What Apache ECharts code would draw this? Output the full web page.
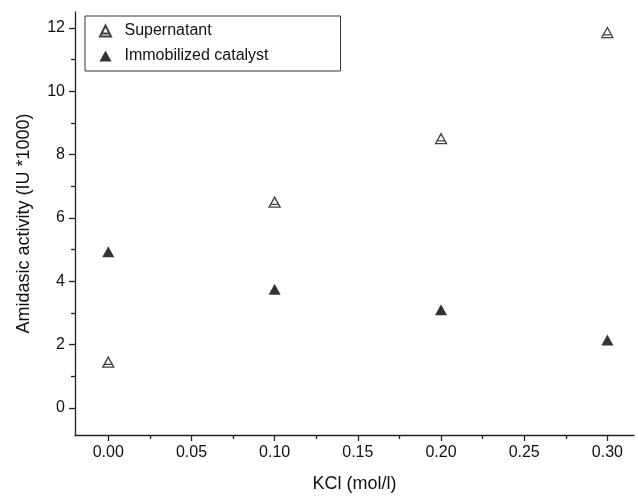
<!DOCTYPE html>
<html>
<head>
<meta charset="utf-8">
<script src="https://cdn.jsdelivr.net/npm/echarts@6/dist/echarts.min.js"></script>
<style>
  html, body { margin: 0; padding: 0; background: #fff; }
  #chart { width: 638px; height: 498px; }
</style>
</head>
<body>
<div id="chart"></div>
<script>
// KCl concentration (mol/l)
const kcl = [0.0, 0.1, 0.2, 0.3];
const supernatant = [1.45, 6.5, 8.5, 11.85];
const immobilized = [4.93, 3.75, 3.1, 2.15];

const xMajor = [0, 0.05, 0.1, 0.15, 0.2, 0.25, 0.3];
const xMinor = [0.025, 0.075, 0.125, 0.175, 0.225, 0.275];
const yMajor = [0, 2, 4, 6, 8, 10, 12];
const yMinor = [1, 3, 5, 7, 9, 11];

const font = 'Liberation Sans, Arial, sans-serif';
const openTriangle = 'path://M0,10 L5,0 L10,10 Z M1.6,7.2 L8.4,7.2';

const chart = echarts.init(document.getElementById('chart'));

const lineStyle = { color: '#222', width: 1.3 };

chart.setOption({
  animation: false,
  grid: { left: 75, top: 12, right: 4, bottom: 62 },
  legend: {
    left: 85, top: 16,
    orient: 'vertical',
    itemWidth: 12, itemHeight: 11,
    itemGap: 9,
    padding: [7, 72, 7, 14],
    borderColor: '#333', borderWidth: 1,
    textStyle: { fontFamily: font, fontSize: 16, color: '#111', padding: [0, 0, 0, 8] },
    data: ['Supernatant', 'Immobilized catalyst']
  },
  xAxis: [{
    type: 'value', min: -0.02, max: 0.316,
    name: 'KCl (mol/l)', nameLocation: 'middle', nameGap: 40,
    nameTextStyle: { fontFamily: font, fontSize: 18, color: '#111' },
    axisLine: { onZero: false, lineStyle },
    axisTick: { length: 6, inside: false, customValues: xMajor, lineStyle },
    axisLabel: {
      customValues: xMajor, fontFamily: font, fontSize: 16, color: '#111', margin: 10,
      formatter: v => v.toFixed(2)
    },
    splitLine: { show: false }
  }, {
    type: 'value', min: -0.02, max: 0.316, position: 'bottom',
    axisLine: { show: false, onZero: false },
    axisTick: { length: 4, customValues: xMinor, lineStyle },
    axisLabel: { show: false },
    splitLine: { show: false }
  }],
  yAxis: [{
    type: 'value', min: -0.85, max: 12.5,
    name: 'Amidasic activity (IU *1000)', nameLocation: 'middle', nameGap: 42,
    nameTextStyle: { fontFamily: font, fontSize: 18, color: '#111' },
    axisLine: { show: true, onZero: false, lineStyle },
    axisTick: { show: true, length: 6, customValues: yMajor, lineStyle },
    axisLabel: { customValues: yMajor, fontFamily: font, fontSize: 16, color: '#111', margin: 10 },
    splitLine: { show: false }
  }, {
    type: 'value', min: -0.85, max: 12.5, position: 'left',
    axisLine: { show: false, onZero: false },
    axisTick: { show: true, length: 4, customValues: yMinor, lineStyle },
    axisLabel: { show: false },
    splitLine: { show: false }
  }],
  series: [{
    name: 'Supernatant',
    type: 'scatter',
    symbol: openTriangle,
    symbolSize: [11, 10],
    itemStyle: { color: '#fff', borderColor: '#111', borderWidth: 1.3 },
    data: kcl.map((x, i) => [x, supernatant[i]])
  }, {
    name: 'Immobilized catalyst',
    type: 'scatter',
    symbol: 'triangle',
    symbolSize: [12, 11],
    itemStyle: { color: '#000' },
    data: kcl.map((x, i) => [x, immobilized[i]])
  }]
});
</script>
</body>
</html>
